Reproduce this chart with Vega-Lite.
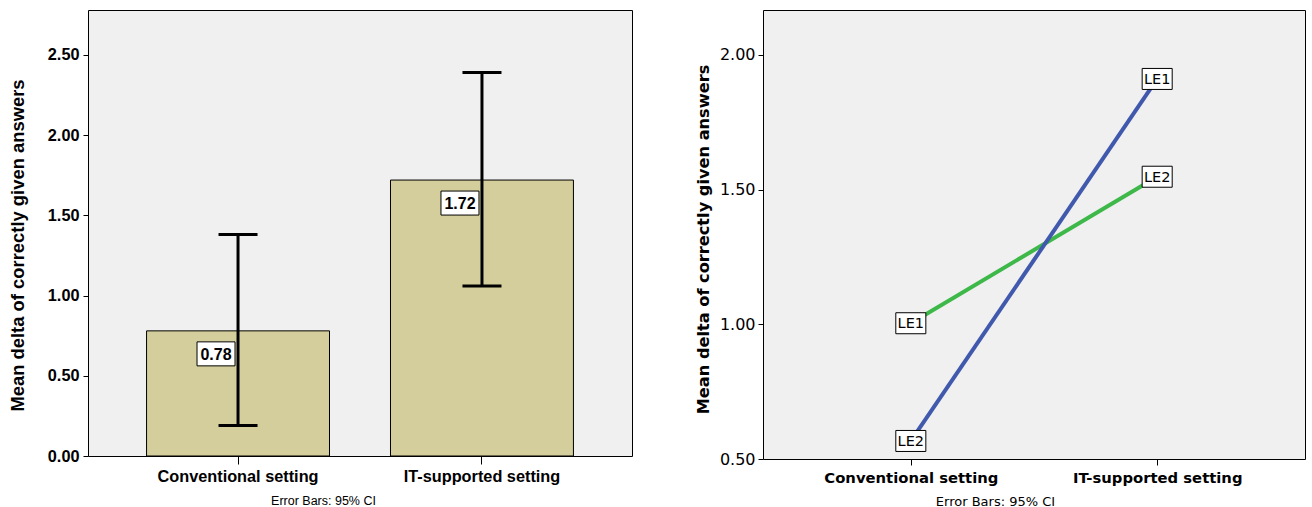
{
  "$schema": "https://vega.github.io/schema/vega-lite/v6.json",
  "background": "white",
  "padding": {"left": 7, "top": 9, "right": 0, "bottom": 0},
  "spacing": 61,
  "config": {
    "view": {"fill": "#F0F0F0", "stroke": "#000000", "strokeWidth": 1},
    "axis": {"grid": false, "domainColor": "#000000", "tickColor": "#000000", "labelColor": "#000000", "titleColor": "#000000", "domainWidth": 1}
  },
  "hconcat": [
    {
      "width": 544,
      "height": 446,
      "data": {"values": [
        {"setting": "Conventional setting", "mean": 0.78, "lower": 0.19, "upper": 1.38, "label": "0.78"},
        {"setting": "IT-supported setting", "mean": 1.72, "lower": 1.06, "upper": 2.39, "label": "1.72"}
      ]},
      "encoding": {
        "x": {
          "field": "setting", "type": "nominal", "sort": null,
          "scale": {"paddingInner": 0.25, "paddingOuter": 0.24},
          "axis": {
            "title": "Error Bars: 95% CI", "titleFont": "Liberation Sans", "titleFontSize": 12.5, "titleFontWeight": "normal",
            "titleX": 235, "titleY": 44, "titleBaseline": "middle", "titleAlign": "center",
            "labelFont": "Liberation Sans", "labelFontSize": 16.3, "labelFontWeight": "bold", "labelAngle": 0, "labelPadding": 4,
            "tickSize": 8, "domain": false
          }
        }
      },
      "layer": [
        {
          "mark": {"type": "bar", "fill": "#D3CE9B", "stroke": "#000000", "strokeWidth": 1},
          "encoding": {
            "y": {
              "field": "mean", "type": "quantitative",
              "scale": {"domain": [0, 2.78], "nice": false, "zero": false},
              "title": "Mean delta of correctly given answers",
              "axis": {
                "values": [0, 0.5, 1, 1.5, 2, 2.5], "format": ".2f",
                "labelFont": "Liberation Sans", "labelFontSize": 16.3, "labelFontWeight": "bold", "labelPadding": 4,
                "titleFont": "Liberation Sans", "titleFontSize": 18.4, "titleFontWeight": "bold", "titlePadding": 20,
                "titleY": 235,
                "tickSize": 5, "domain": false
              }
            }
          }
        },
        {
          "mark": {"type": "rule", "strokeWidth": 3, "color": "#000000"},
          "encoding": {
            "y": {"field": "lower", "type": "quantitative", "title": "Mean delta of correctly given answers"},
            "y2": {"field": "upper"}
          }
        },
        {
          "mark": {"type": "tick", "orient": "horizontal", "size": 39, "thickness": 3, "color": "#000000", "opacity": 1},
          "encoding": {"y": {"field": "upper", "type": "quantitative", "title": "Mean delta of correctly given answers"}}
        },
        {
          "mark": {"type": "tick", "orient": "horizontal", "size": 39, "thickness": 3, "color": "#000000", "opacity": 1},
          "encoding": {"y": {"field": "lower", "type": "quantitative", "title": "Mean delta of correctly given answers"}}
        },
        {
          "mark": {"type": "point", "shape": "M-1.583,-1H1.583V1H-1.583Z", "size": 576, "filled": true, "fill": "#FFFFFF", "stroke": "#000000", "strokeWidth": 1, "opacity": 1, "xOffset": -22, "yOffset": 23},
          "encoding": {"y": {"field": "mean", "type": "quantitative", "title": "Mean delta of correctly given answers"}}
        },
        {
          "mark": {"type": "text", "font": "Liberation Sans", "fontWeight": "bold", "fontSize": 16, "dx": -22, "dy": 24, "color": "#000000", "baseline": "middle", "align": "center"},
          "encoding": {
            "y": {"field": "mean", "type": "quantitative", "title": "Mean delta of correctly given answers"},
            "text": {"field": "label"}
          }
        }
      ]
    },
    {
      "width": 542,
      "height": 449,
      "data": {"values": [
        {"setting": "Conventional setting", "series": "s1", "mean": 1.004, "label": "LE1"},
        {"setting": "IT-supported setting", "series": "s1", "mean": 1.548, "label": "LE2"},
        {"setting": "Conventional setting", "series": "s2", "mean": 0.567, "label": "LE2"},
        {"setting": "IT-supported setting", "series": "s2", "mean": 1.911, "label": "LE1"}
      ]},
      "encoding": {
        "x": {
          "field": "setting", "type": "nominal", "sort": null,
          "scale": {"type": "point", "padding": 0.6},
          "axis": {
            "title": "Error Bars: 95% CI", "titleFont": "DejaVu Sans", "titleFontSize": 13, "titleFontWeight": "normal",
            "titleX": 232, "titleY": 42, "titleBaseline": "middle", "titleAlign": "center",
            "labelFont": "DejaVu Sans", "labelFontSize": 14.8, "labelFontWeight": "bold", "labelAngle": 0, "labelPadding": 5,
            "tickSize": 6, "domain": false
          }
        },
        "y": {
          "field": "mean", "type": "quantitative",
          "scale": {"domain": [0.5, 2.167], "nice": false, "zero": false},
          "title": "Mean delta of correctly given answers",
          "axis": {
            "values": [0.5, 1, 1.5, 2], "format": ".2f",
            "labelFont": "DejaVu Sans", "labelFontSize": 16, "labelFontWeight": "normal", "labelPadding": 3,
            "titleFont": "DejaVu Sans", "titleFontSize": 16.2, "titleFontWeight": "bold", "titlePadding": 8,
            "titleY": 229,
            "tickSize": 5, "domain": false
          }
        }
      },
      "layer": [
        {
          "mark": {"type": "line", "strokeWidth": 4},
          "encoding": {
            "color": {"field": "series", "type": "nominal", "scale": {"domain": ["s1", "s2"], "range": ["#3DB849", "#4059AD"]}, "legend": null}
          }
        },
        {
          "mark": {"type": "point", "shape": "M-1.43,-1H1.43V1H-1.43Z", "size": 441, "filled": true, "fill": "#FFFFFF", "stroke": "#000000", "strokeWidth": 1, "opacity": 1}
        },
        {
          "mark": {"type": "text", "font": "DejaVu Sans", "fontSize": 14.5, "color": "#000000", "baseline": "middle", "align": "center", "dy": 1},
          "encoding": {"text": {"field": "label"}}
        }
      ]
    }
  ]
}
